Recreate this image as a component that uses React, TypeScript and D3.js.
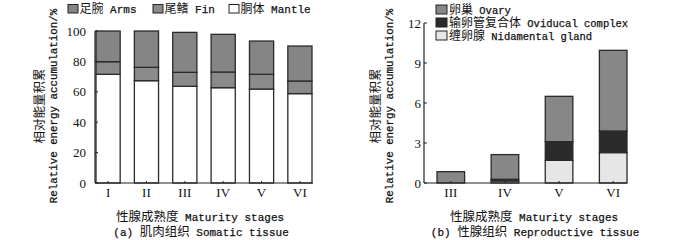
import React from "react";
import * as d3 from "d3";

const somaticStages = ["I", "II", "III", "IV", "V", "VI"];
const mantle = [71.5, 67.3, 63.6, 62.7, 61.8, 58.8];
const fin = [8.3, 8.8, 9.2, 10.3, 9.7, 8.3];
const arms = [20.2, 23.9, 26.3, 24.8, 21.9, 23.0];
const somaticTicks = [0, 20, 40, 60, 80, 100];

const reproStages = ["III", "IV", "V", "VI"];
const nidamental = [0.0, 0.15, 1.7, 2.28];
const oviducal = [0.0, 0.13, 1.4, 1.62];
const ovary = [0.85, 1.85, 3.4, 6.05];
const reproTicks = [0, 3, 6, 9, 12];

const MONO = "'Liberation Mono', 'DejaVu Sans Mono', monospace";
const CJK = "'Noto Sans CJK SC', sans-serif";
const SERIF = "'Liberation Serif', 'DejaVu Serif', serif";

// Mixed CJK / Latin text laid out as separate runs (each its own <text>)
function Mixed({ text, x, y, latin = 11, cjk = 12.5, anchor = "start", rotate = false }: any) {
  const runs: string[] = text.match(/[\u3000-\u9fff\uff00-\uffef]+|[^\u3000-\u9fff\uff00-\uffef]+/g) || [];
  const widthOf = (r: string) => (/[\u3000-\u9fff]/.test(r) ? r.length * cjk : r.length * latin * 0.6);
  const total = runs.reduce((s, r) => s + widthOf(r), 0);
  let cur = anchor === "middle" ? -total / 2 : 0;
  const items = runs.map((r, i) => {
    const isC = /[\u3000-\u9fff]/.test(r);
    const lead = r.length - r.trimStart().length;
    const off = cur + lead * latin * 0.6;
    cur += widthOf(r);
    const t = r.trim();
    if (!t) return null;
    return (
      <text
        key={i}
        x={off}
        y={0}
        fontFamily={isC ? CJK : MONO}
        fontSize={isC ? cjk : latin}
        fill="#111"
        stroke={isC ? "none" : "#111"}
        strokeWidth={isC ? 0 : 0.25}
      >
        {t}
      </text>
    );
  });
  return <g transform={`translate(${x},${y})${rotate ? " rotate(-90)" : ""}`}>{items}</g>;
}

export default function App() {
  // Left panel
  const lx = d3.scaleBand().domain(somaticStages).range([96, 312]).paddingInner(0.37).paddingOuter(0);
  const ly = d3.scaleLinear().domain([0, 100]).range([183, 31]);
  const leftSeries = [
    { name: "胴体 Mantle", vals: mantle, fill: "#ffffff" },
    { name: "尾鳍 Fin", vals: fin, fill: "#8a8a8a" },
    { name: "足腕 Arms", vals: arms, fill: "#858585" },
  ];
  const leftLegend = [
    { name: "足腕 Arms", fill: "#858585", x: 68 },
    { name: "尾鳍 Fin", fill: "#8a8a8a", x: 153 },
    { name: "胴体 Mantle", fill: "#ffffff", x: 229 },
  ];

  // Right panel
  const rx = d3.scaleBand().domain(reproStages).range([437, 627]).paddingInner(0.49).paddingOuter(0);
  const ry = d3.scaleLinear().domain([0, 12]).range([183, 23]);
  const rightSeries = [
    { name: "缠卵腺 Nidamental gland", vals: nidamental, fill: "#e6e6e6" },
    { name: "输卵管复合体 Oviducal complex", vals: oviducal, fill: "#2b2b2b" },
    { name: "卵巢 Ovary", vals: ovary, fill: "#878787" },
  ];
  const rightLegend = [rightSeries[2], rightSeries[1], rightSeries[0]];

  const stackBars = (series: any[], stages: string[], x: any, y: any) =>
    stages.map((s, i) => {
      let acc = 0;
      return (
        <g key={s}>
          {series.map((se) => {
            const v = se.vals[i];
            const y0 = acc;
            acc += v;
            if (v <= 0) return null;
            return (
              <rect
                key={se.name}
                x={x(s)}
                width={x.bandwidth()}
                y={y(acc)}
                height={y(y0) - y(acc)}
                fill={se.fill}
                stroke="#2a2a2a"
                strokeWidth={1.3}
              />
            );
          })}
        </g>
      );
    });

  return (
    <svg width={700} height={240} style={{ position: "absolute", left: 0, top: 0, background: "#fff" }}>
      {/* ===== Left panel ===== */}
      {leftLegend.map((l) => (
        <g key={l.name}>
          <rect x={l.x} y={4.5} width={10} height={8.5} fill={l.fill} stroke="#222" strokeWidth={1} />
          <Mixed text={l.name} x={l.x + 11.5} y={13} latin={11} cjk={12} />
        </g>
      ))}
      {stackBars(leftSeries, somaticStages, lx, ly)}
      <line x1={95} x2={95} y1={ly(100)} y2={183} stroke="#222" strokeWidth={1.2} />
      <line x1={95} x2={313} y1={183} y2={183} stroke="#222" strokeWidth={1.2} />
      {somaticTicks.map((t) => (
        <g key={t}>
          <line x1={95} x2={98} y1={ly(t)} y2={ly(t)} stroke="#222" />
          <text x={86} y={ly(t) + 4.5} textAnchor="end" fontFamily={SERIF} fontSize={13} fill="#111">
            {t}
          </text>
        </g>
      ))}
      {somaticStages.map((s) => (
        <g key={s}>
          <line x1={lx(s)! + lx.bandwidth() / 2} x2={lx(s)! + lx.bandwidth() / 2} y1={183} y2={181} stroke="#222" />
          <text x={lx(s)! + lx.bandwidth() / 2} y={197} textAnchor="middle" fontFamily={SERIF} fontSize={13} fill="#111">
            {s}
          </text>
        </g>
      ))}
      <Mixed text="相对能量积累" x={44} y={106} anchor="middle" rotate cjk={12.5} />
      <Mixed text="Relative energy accumulation/%" x={57} y={106} anchor="middle" rotate latin={10.8} />
      <Mixed text="性腺成熟度 Maturity stages" x={200} y={221} anchor="middle" latin={11} cjk={12.5} />
      <Mixed text="(a) 肌肉组织 Somatic tissue" x={201} y={236} anchor="middle" latin={11} cjk={12.5} />

      {/* ===== Right panel ===== */}
      {rightLegend.map((l, i) => (
        <g key={l.name}>
          <rect x={436} y={5 + i * 13} width={11} height={9} fill={l.fill} stroke="#222" strokeWidth={1} />
          <Mixed text={l.name} x={449} y={14 + i * 13} latin={10.5} cjk={12} />
        </g>
      ))}
      {stackBars(rightSeries, reproStages, rx, ry)}
      <line x1={424} x2={424} y1={ry(12)} y2={183} stroke="#222" strokeWidth={1.2} />
      <line x1={424} x2={627} y1={183} y2={183} stroke="#222" strokeWidth={1.2} />
      {reproTicks.map((t) => (
        <g key={t}>
          <line x1={424} x2={427} y1={ry(t)} y2={ry(t)} stroke="#222" />
          <text x={421} y={ry(t) + 4.5} textAnchor="end" fontFamily={SERIF} fontSize={13} fill="#111">
            {t}
          </text>
        </g>
      ))}
      {reproStages.map((s) => (
        <g key={s}>
          <line x1={rx(s)! + rx.bandwidth() / 2} x2={rx(s)! + rx.bandwidth() / 2} y1={183} y2={181} stroke="#222" />
          <text x={rx(s)! + rx.bandwidth() / 2} y={197} textAnchor="middle" fontFamily={SERIF} fontSize={13} fill="#111">
            {s}
          </text>
        </g>
      ))}
      <Mixed text="相对能量积累" x={380} y={106} anchor="middle" rotate cjk={12.5} />
      <Mixed text="Relative energy accumulation/%" x={393} y={106} anchor="middle" rotate latin={10.8} />
      <Mixed text="性腺成熟度 Maturity stages" x={534} y={221} anchor="middle" latin={11} cjk={12.5} />
      <Mixed text="(b) 性腺组织 Reproductive tissue" x={535} y={236} anchor="middle" latin={11} cjk={12.5} />
    </svg>
  );
}
